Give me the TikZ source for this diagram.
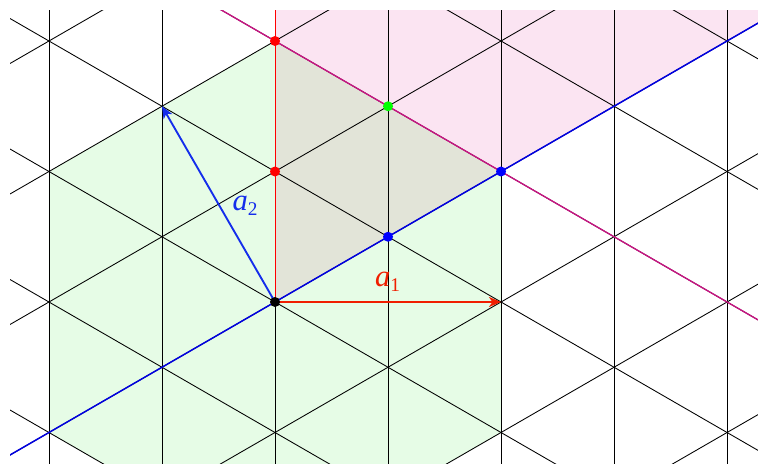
\documentclass[tikz,border=0pt]{standalone}
\usepackage{fontspec}
\setmainfont{Liberation Serif}
\usetikzlibrary{arrows.meta}
\definecolor{pinkfill}{RGB}{251,228,242}
\definecolor{greenfill}{RGB}{230,252,230}
\definecolor{greyfill}{RGB}{226,228,216}
\definecolor{wallcol}{RGB}{200,20,130}
\definecolor{bluecol}{RGB}{0,0,225}
\definecolor{redcol}{RGB}{240,30,0}
\definecolor{arrowblue}{RGB}{20,45,235}
\begin{document}
\begin{tikzpicture}[x=0.75pt,y=-0.75pt,
  latt/.style={black, line width=0.65pt},
  dot/.style={circle, fill, inner sep=0pt, minimum size=7.5pt},
  vec/.style={line width=1.4pt, -{Stealth[length=9pt,width=7.5pt,inset=2.5pt]}},
  lab/.style={inner sep=0pt}]
\useasboundingbox (0,0) rectangle (758,464);
\def\h{113.016}
\def\s{130.5}
\def\hs{65.25}
\begin{scope}
\clip (10,10) rectangle (758,464);
% pink chamber
\fill[pinkfill] (275,302) -- (275,0) -- (770,0) -- (770,302-495*0.57735) -- cycle;
% green hexagon
\fill[greenfill] (275,41) -- (275-2*\h,171.5) -- (275-2*\h,432.5) -- (275,563)
  -- (275+2*\h,432.5) -- (275+2*\h,171.5) -- cycle;
% overlap triangle
\fill[greyfill] (275,41) -- (275+2*\h,171.5) -- (275,302) -- cycle;
% lattice
\foreach \i in {-2,...,4}
  \draw[latt] (275+\i*\h,0) -- (275+\i*\h,480);
\foreach \k in {-5,...,5} {
  \draw[latt] (275-8*\h,302+\k*\s+8*\hs) -- (275+8*\h,302+\k*\s-8*\hs);
  \draw[latt] (275-8*\h,302+\k*\s-8*\hs) -- (275+8*\h,302+\k*\s+8*\hs);
}
% red vertical ray
\draw[red, line width=0.65pt] (275,302) -- (275,0);
% wall line
\draw[wallcol, line width=1pt] (275-4*\h,41-4*\hs) -- (275+6*\h,41+6*\hs);
% blue line
\draw[bluecol, line width=1.1pt] (275-4*\h,302+4*\hs) -- (275+6*\h,302-6*\hs);
\end{scope}
% lattice points
\coordinate (O) at (275,302);
\coordinate (A1) at (275+2*\h,302);
\coordinate (A2) at (275-\h,302-3*\hs);
\draw[vec, redcol] (O) -- (A1);
\draw[vec, arrowblue] (O) -- (A2);
\node[dot, red] (r1) at (275,41) {};
\node[dot, red] (r2) at (275,171.5) {};
\node[dot, green] (g1) at (275+\h,106.25) {};
\node[dot, blue] (b1) at (275+2*\h,171.5) {};
\node[dot, blue] (b2) at (275+\h,236.75) {};
\node[dot, black] (o) at (O) {};
\node[lab, text=redcol] (l1) at (387.5,281.5) {\fontsize{23}{23}\selectfont\itshape a\/\raisebox{-4pt}{\upshape\fontsize{14.5}{14.5}\selectfont 1}};
\node[lab, text=arrowblue] (l2) at (245,205.5) {\fontsize{23}{23}\selectfont\itshape a\/\raisebox{-4pt}{\upshape\fontsize{14.5}{14.5}\selectfont 2}};
\end{tikzpicture}
\end{document}
